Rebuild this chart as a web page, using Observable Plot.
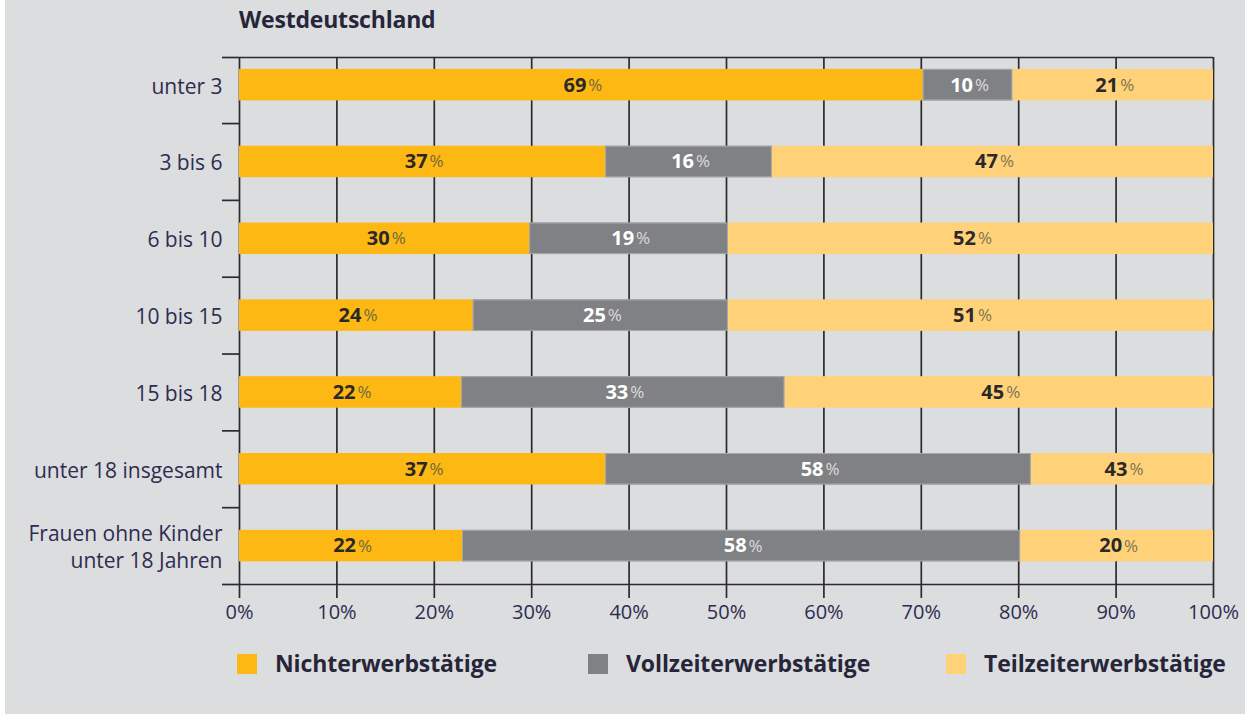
<!DOCTYPE html>
<html>
<head>
<meta charset="utf-8">
<script src="https://cdn.jsdelivr.net/npm/d3@7"></script>
<script src="https://cdn.jsdelivr.net/npm/@observablehq/plot@0.6"></script>
<style>
  html, body { margin: 0; padding: 0; background: #ffffff; }
  #wrap { position: relative; margin-left: 5px; width: 1240px; height: 714px; background: #dcdddf; font-family: "Open Sans", Lato, sans-serif; }
  #title { position: absolute; left: 234px; top: 7px; font-size: 23px; line-height: 25px; font-weight: 700; color: #26253a; letter-spacing: -0.2px; }
  #chart { position: absolute; left: 0; top: 40px; }
  #legend { position: absolute; left: 232px; top: 651px; display: flex; }
  .item { display: flex; align-items: flex-start; font-size: 23px; line-height: 24px; font-weight: 700; color: #26253a; letter-spacing: -0.1px; }
  .sw { width: 20px; height: 20px; margin-top: 3px; margin-right: 18px; }
</style>
</head>
<body>
<div id="wrap">
  <div id="title">Westdeutschland</div>
  <div id="chart"></div>
  <div id="legend"></div>
</div>
<script>
// ---- data ----
const categories = ["unter 3", "3 bis 6", "6 bis 10", "10 bis 15", "15 bis 18", "unter 18 insgesamt", "Frauen ohne Kinder\nunter 18 Jahren"];
const series = ["Nichterwerbstätige", "Vollzeiterwerbstätige", "Teilzeiterwerbstätige"];
const colors = ["#fdb813", "#808184", "#ffd27a"];
// bar widths as drawn (percent of the bar)
const nichtShare = [70.2, 37.6, 29.8, 24.0, 22.8, 37.6, 22.9];
const vollShare  = [9.2, 17.1, 20.4, 26.2, 33.2, 43.7, 57.3];
const teilShare  = [20.6, 45.3, 49.8, 49.8, 44.0, 18.7, 19.8];
// printed labels
const nichtLabel = [69, 37, 30, 24, 22, 37, 22];
const vollLabel  = [10, 16, 19, 25, 33, 58, 58];
const teilLabel  = [21, 47, 52, 51, 45, 43, 20];
const xTicks = [0, 10, 20, 30, 40, 50, 60, 70, 80, 90, 100];

// ---- build table ----
const shares = [nichtShare, vollShare, teilShare];
const labels = [nichtLabel, vollLabel, teilLabel];
const segments = [];
categories.forEach((c, i) => {
  let acc = 0;
  series.forEach((s, k) => {
    const v = shares[k][i];
    segments.push({row: i, category: c, series: s, k, x1: acc, x2: acc + v, mid: acc + v / 2, label: labels[k][i]});
    acc += v;
  });
});

const yTop = -0.36, yBottom = 6.5, half = 0.205;
const separators = [yTop, 0.5, 1.5, 2.5, 3.5, 4.5, 5.5, yBottom];
const ink = "#2b2b2b";
const darkText = "#2a2928";

function labelMarks(data, numFill, pctFill) {
  return [
    Plot.text(data, {x: "mid", y: "row", text: d => String(d.label), textAnchor: "end", dx: 5, fill: numFill, fontWeight: 700, fontSize: 20, letterSpacing: -0.5}),
    Plot.text(data, {x: "mid", y: "row", text: () => "%", textAnchor: "start", dx: 7, fill: pctFill, fontWeight: 400, fontSize: 17})
  ];
}

const plot = Plot.plot({
  width: 1240,
  height: 590,
  marginTop: 17,
  marginBottom: 46,
  marginLeft: 234,
  marginRight: 32,
  style: {background: "transparent", fontFamily: "'Open Sans', Lato, sans-serif", fontSize: "20px", color: "#2e2c50"},
  x: {domain: [0, 100], label: null},
  y: {domain: [yBottom, yTop], label: null},
  color: {domain: series, range: colors},
  marks: [
    Plot.ruleX(xTicks, {stroke: ink, strokeWidth: 1.7}),
    Plot.ruleY([yTop, yBottom], {stroke: ink, strokeWidth: 1.7}),
    Plot.axisY({ticks: separators, tickSize: 17, tickFormat: () => "", stroke: ink, strokeWidth: 1.7}),
    Plot.axisX({ticks: xTicks, tickSize: 14, tickFormat: () => "", stroke: ink, strokeWidth: 1.7}),
    Plot.axisX({ticks: xTicks, tickSize: 0, tickPadding: 20, tickFormat: d => d + "%", fill: "#2e2c50", fontSize: 20, letterSpacing: -0.5}),
    Plot.rect(segments, {x1: "x1", x2: "x2", y1: d => d.row - half, y2: d => d.row + half, fill: "series"}),
    Plot.rect(segments.filter(d => d.k === 1), {x1: "x1", x2: "x2", y1: d => d.row - half, y2: d => d.row + half, fill: "none", stroke: "#a7a8aa", strokeWidth: 1, inset: 0.5}),
    Plot.text(categories, {x: 0, y: (d, i) => i, dx: -17, textAnchor: "end", lineHeight: 1.25, fontSize: 21, letterSpacing: -0.2, fill: "#2e2c50"}),
    ...labelMarks(segments.filter(d => d.k === 0), darkText, "#6f6a3c"),
    ...labelMarks(segments.filter(d => d.k === 1), "#ffffff", "#dcdcdc"),
    ...labelMarks(segments.filter(d => d.k === 2), darkText, "#7f7450")
  ]
});
document.getElementById("chart").appendChild(plot);

// ---- legend ----
const legend = document.getElementById("legend");
const itemWidths = [351, 358, null];
series.forEach((s, k) => {
  const it = document.createElement("div");
  it.className = "item";
  if (itemWidths[k]) it.style.width = itemWidths[k] + "px";
  const sw = document.createElement("div");
  sw.className = "sw";
  sw.style.background = colors[k];
  const tx = document.createElement("span");
  tx.textContent = s;
  it.appendChild(sw);
  it.appendChild(tx);
  legend.appendChild(it);
});
</script>
</body>
</html>
